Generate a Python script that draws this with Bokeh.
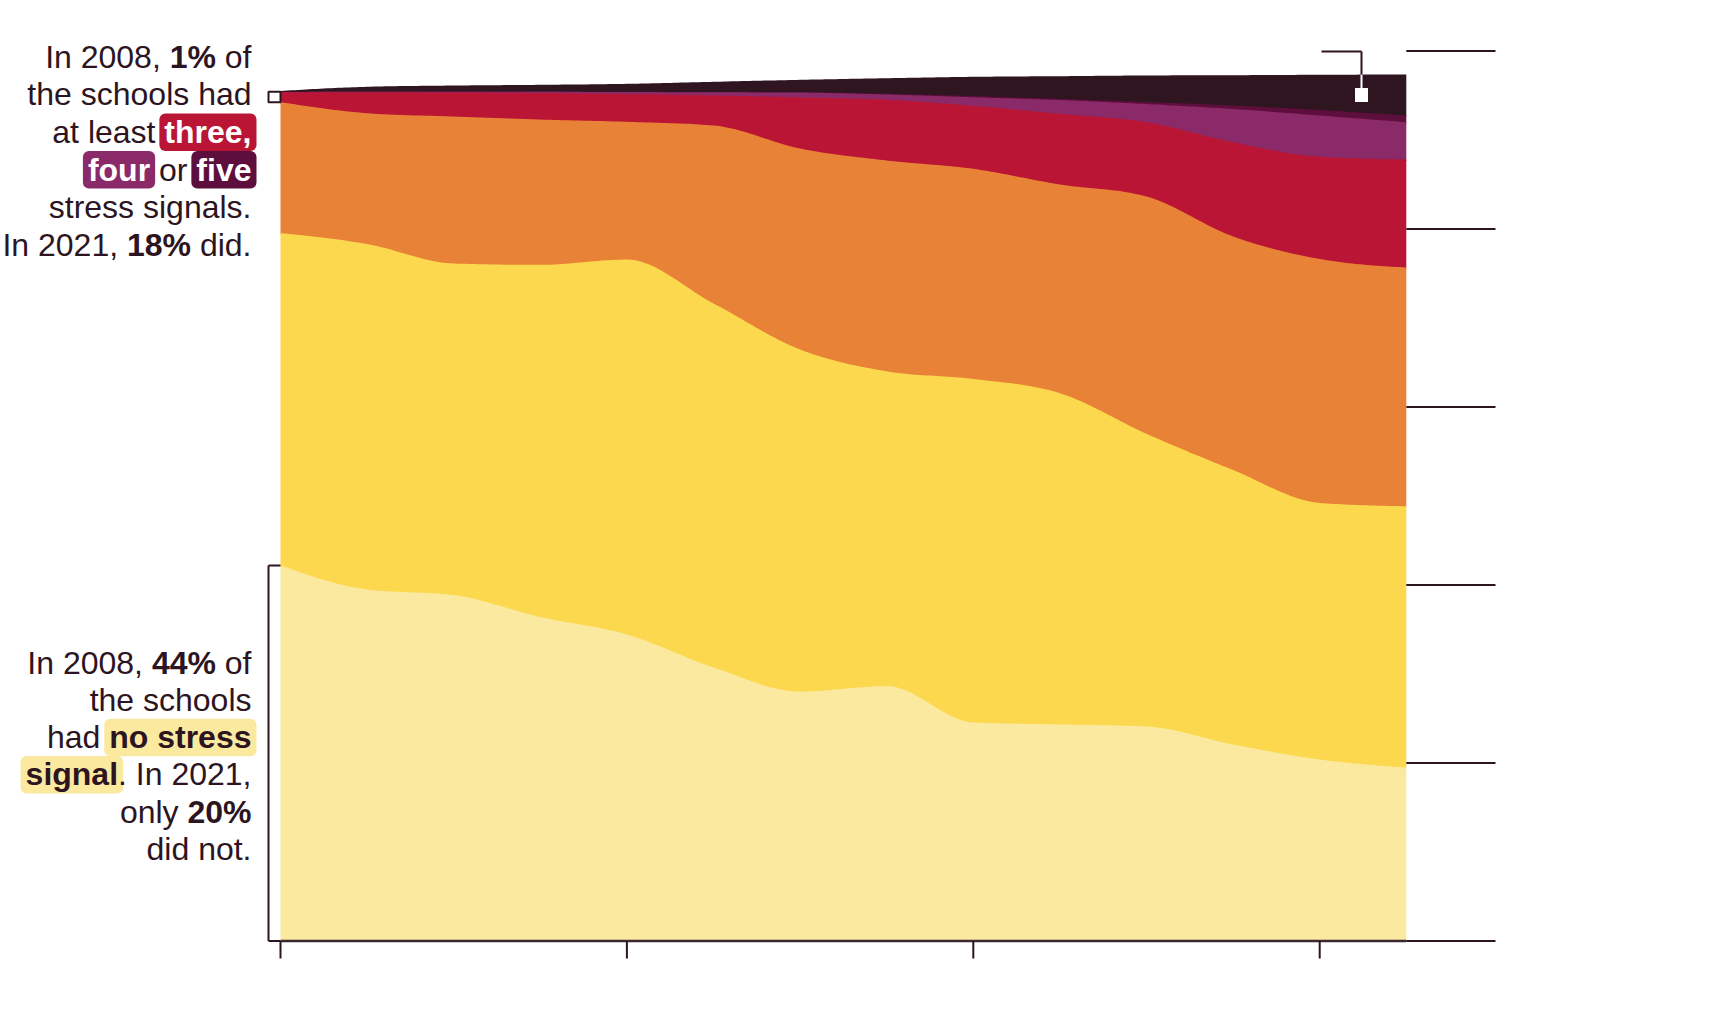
import numpy as np
from bokeh.plotting import figure
from bokeh.models import ColumnDataSource, Range1d
from bokeh.embed import file_html
from bokeh.resources import INLINE
from bokeh.core.properties import value

# ---------------- data (number of schools) ----------------
years = [2008, 2009, 2010, 2011, 2012, 2013, 2014, 2015, 2016, 2017, 2018, 2019, 2020, 2021]
no_signal = [4219, 3949, 3887, 3640, 3444, 3073, 2803, 2864, 2455, 2433, 2410, 2208, 2039, 1949]
one_signal = [3735, 3882, 3725, 3957, 4213, 4090, 3843, 3537, 3860, 3722, 3289, 3084, 2883, 2936]
two_signals = [1471, 1470, 1652, 1633, 1547, 2000, 2258, 2369, 2361, 2345, 2666, 2624, 2741, 2682]
three_signals = [112, 235, 270, 298, 312, 337, 574, 682, 708, 794, 835, 1059, 1148, 1214]
four_signals = [3, 6, 9, 14, 23, 36, 55, 59, 96, 155, 204, 373, 464, 419]
five_signals = [3, 2, 2, 2, 3, 3, 3, 9, 13, 12, 23, 40, 62, 75]
no_data = [8, 54, 67, 76, 89, 115, 140, 174, 217, 256, 298, 340, 396, 461]

x_ticks = [2008, 2012, 2016, 2020]
y_ticks = [0, 2000, 4000, 6000, 8000, 10000]

top_note = [
    [("In 2008, ", "reg"), ("1%", "bold"), (" of", "reg")],
    [("the schools had", "reg")],
    [("at least ", "reg"), ("three,", "hl_three")],
    [("four", "hl_four"), (" or ", "reg"), ("five", "hl_five")],
    [("stress signals.", "reg")],
    [("In 2021, ", "reg"), ("18%", "bold"), (" did.", "reg")],
]
bottom_note = [
    [("In 2008, ", "reg"), ("44%", "bold"), (" of", "reg")],
    [("the schools", "reg")],
    [("had ", "reg"), ("no stress", "hl_none")],
    [("signal", "hl_none"), (". In 2021,", "reg")],
    [("only ", "reg"), ("20%", "bold")],
    [("did not.", "reg")],
]

# ---------------- styles ----------------
bands = [no_signal, one_signal, two_signals, three_signals, four_signals, five_signals, no_data]
band_colors = ["#FBE9A0", "#FCD84E", "#E88236", "#BA1535", "#8A2A68", "#5E0E3C", "#2E1520"]
INK = "#2C1521"
FONT = "Liberation Sans"
FS = 32
TEXT_DY = -10.0   # compensation of the text baseline offset seen in the svg output

OFF = 0.0
W, H = 1700, 990
PX_PER_YEAR = 86.6
PX_PER_UNIT = 0.089
X_2008_PX = 280.0
Y_ZERO_PX = 940.5

X0 = 2008 - (X_2008_PX - OFF) / PX_PER_YEAR
X1 = X0 + W / PX_PER_YEAR
Y1 = (Y_ZERO_PX - OFF) / PX_PER_UNIT
Y0 = Y1 - H / PX_PER_UNIT


def fx(px):
    return X0 + (px - OFF) / PX_PER_YEAR


def fy(py):
    return Y1 - (py - OFF) / PX_PER_UNIT


def dy(px):
    return px / PX_PER_UNIT


# monotone cubic curve (like d3.curveMonotoneX) used only to draw smooth band edges
def monotone_curve(xs, ys, steps=24):
    xs = np.asarray(xs, float)
    ys = np.asarray(ys, float)
    h = np.diff(xs)
    s = np.diff(ys) / h
    n = len(xs)
    m = np.zeros(n)
    for k in range(1, n - 1):
        h0, h1, s0, s1 = h[k - 1], h[k], s[k - 1], s[k]
        p_ = (s0 * h1 + s1 * h0) / (h0 + h1)
        m[k] = (np.sign(s0) + np.sign(s1)) * min(abs(s0), abs(s1), 0.5 * abs(p_))
    m[0] = (3 * s[0] - m[1]) / 2
    m[-1] = (3 * s[-1] - m[-2]) / 2
    out_x, out_y = [], []
    t = np.linspace(0, 1, steps, endpoint=False)
    for k in range(n - 1):
        h00 = 2 * t**3 - 3 * t**2 + 1
        h10 = t**3 - 2 * t**2 + t
        h01 = -2 * t**3 + 3 * t**2
        h11 = t**3 - t**2
        out_x.append(xs[k] + t * h[k])
        out_y.append(h00 * ys[k] + h10 * h[k] * m[k] + h01 * ys[k + 1] + h11 * h[k] * m[k + 1])
    out_x.append([xs[-1]])
    out_y.append([ys[-1]])
    return np.concatenate(out_x), np.concatenate(out_y)


p = figure(width=W, height=H, x_range=Range1d(X0, X1), y_range=Range1d(Y0, Y1),
           output_backend="svg", toolbar_location=None,
           x_axis_location=None, y_axis_location=None,
           min_border=0, min_border_left=0, min_border_right=0,
           min_border_top=0, min_border_bottom=0)
p.grid.visible = False
p.outline_line_color = None
p.background_fill_color = "white"
p.border_fill_color = "white"

# ---------------- stacked areas ----------------
cum = np.cumsum(np.array(bands, float), axis=0)      # stacked boundaries per year
edges = []
for row in cum:
    sx, sy = monotone_curve(years, row)
    edges.append(sy)
edges = np.maximum.accumulate(np.array(edges), axis=0)
lower = np.vstack([np.zeros_like(edges[0]), edges[:-1]])
overlap = dy(1.5)
src_cols = {"x": sx}
for i in range(len(bands)):
    src_cols[f"lo{i}"] = np.maximum(lower[i] - overlap, 0)
    src_cols[f"hi{i}"] = edges[i]
src = ColumnDataSource(src_cols)
for i in reversed(range(len(bands))):
    p.varea(x="x", y1=f"lo{i}", y2=f"hi{i}", source=src, fill_color=band_colors[i])

# ---------------- axes ----------------
p.segment(x0=[years[-1]] * len(y_ticks), x1=[fx(1495)] * len(y_ticks), y0=y_ticks, y1=y_ticks,
          line_color=INK, line_width=1.8)
p.segment(x0=[years[0]], x1=[years[-1]], y0=[0], y1=[0], line_color="#3a2832", line_width=2.5)
p.segment(x0=x_ticks, x1=x_ticks, y0=[0] * len(x_ticks), y1=[fy(958)] * len(x_ticks),
          line_color=INK, line_width=2)

# ---------------- brackets / markers ----------------
bx = fx(268)
p.segment(x0=[bx, bx, bx], x1=[bx, years[0], years[0]],
          y0=[0, no_signal[0], 0], y1=[no_signal[0], no_signal[0], 0],
          line_color=INK, line_width=2)
p.quad(left=[bx], right=[years[0]], bottom=[cum[2][0]], top=[cum[5][0]],
       fill_color="white", line_color=INK, line_width=2)

mx = fx(1361)
mid = cum[5][-1] + no_data[-1] / 2
p.segment(x0=[mx], x1=[mx], y0=[mid + dy(7)], y1=[cum[6][-1]], line_color="white", line_width=2)
p.segment(x0=[mx, fx(1321)], x1=[mx, mx], y0=[cum[6][-1], fy(51)], y1=[fy(51), fy(51)],
          line_color=INK, line_width=2)
p.quad(left=[fx(1354.5)], right=[fx(1367.5)], bottom=[mid - dy(7)], top=[mid + dy(7)],
       fill_color="white", line_color=None)

# ---------------- annotation text ----------------
REG = {' ': 278, ',': 278, '.': 278, '%': 889, 'I': 278, 'a': 556, 'c': 500, 'd': 556, 'e': 556,
       'f': 278, 'g': 556, 'h': 556, 'i': 222, 'l': 222, 'n': 556, 'o': 556, 'r': 333, 's': 500,
       't': 278, 'y': 500, 'u': 556, 'v': 500}
BOLD = {' ': 278, ',': 278, '.': 278, '%': 889, 'I': 278, 'a': 556, 'c': 556, 'd': 611, 'e': 556,
        'f': 333, 'g': 611, 'h': 611, 'i': 278, 'l': 278, 'n': 611, 'o': 611, 'r': 389, 's': 556,
        't': 333, 'y': 556, 'u': 611, 'v': 556}
for d in (REG, BOLD):
    for c in "0123456789":
        d[c] = 556

STYLE = {
    "reg": ("normal", INK, None),
    "bold": ("bold", INK, None),
    "hl_three": ("bold", "white", "#BA1535"),
    "hl_four": ("bold", "white", "#8A2A68"),
    "hl_five": ("bold", "white", "#5E0E3C"),
    "hl_none": ("bold", INK, "#FBE9A0"),
}


def width(txt, weight):
    tab = BOLD if weight == "bold" else REG
    return sum(tab.get(c, 556) for c in txt) * FS / 1000.0


texts = {}
boxes = {"l": [], "r": [], "t": [], "b": [], "c": []}
RIGHT = 251.0


def lay(lines, base0, step):
    for i, line in enumerate(lines):
        base = base0 + i * step
        total = sum(width(t, STYLE[s][0]) for t, s in line)
        cur = RIGHT - total
        for t, s in line:
            weight, color, bg = STYLE[s]
            w = width(t, weight)
            if bg:
                boxes["l"].append(fx(cur - 5))
                boxes["r"].append(fx(cur + w + 5))
                boxes["t"].append(fy(base - 28.5))
                boxes["b"].append(fy(base + 9))
                boxes["c"].append(bg)
            lead = len(t) - len(t.lstrip(" "))
            key = (weight, color)
            texts.setdefault(key, {"x": [], "y": [], "t": []})
            texts[key]["x"].append(fx(cur + width(" " * lead, weight)))
            texts[key]["y"].append(fy(base + TEXT_DY))
            texts[key]["t"].append(t.strip(" "))
            cur += w


lay(top_note, 66.0, 37.7)
lay(bottom_note, 672.5, 37.15)

p.quad(left=boxes["l"], right=boxes["r"], top=boxes["t"], bottom=boxes["b"],
       fill_color=boxes["c"], line_color=None, border_radius=6)
for (weight, color), d in texts.items():
    p.text(x=d["x"], y=d["y"], text=d["t"], text_font=value(FONT), text_font_size=value(f"{FS}px"),
           text_font_style=weight, text_color=color, text_align="left", text_baseline="alphabetic")

open("out.html", "w").write(file_html(p, INLINE))
